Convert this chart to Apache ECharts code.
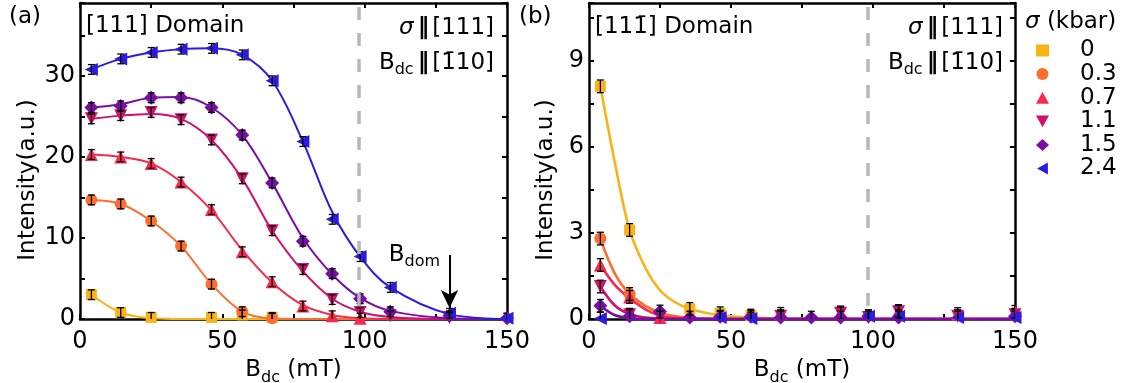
<!DOCTYPE html>
<html>
<head>
<meta charset="utf-8">
<script src="https://cdn.jsdelivr.net/npm/echarts@6/dist/echarts.min.js"></script>
<style>
html, body { margin: 0; padding: 0; background: #fff; }
#chart { width: 1125px; height: 383px; }
</style>
</head>
<body>
<div id="chart"></div>
<script>
var FONT = 'DejaVu Sans';

// field values (mT), shared by both panels
var bdc = [4, 14.3, 25, 35.5, 46.2, 57, 67.5, 78.3, 88.6, 98.4, 109, 129.8, 150];
var sigmaNames = ['0', '0.3', '0.7', '1.1', '1.5', '2.4'];
var colors = ['#fbb215', '#fb6e2d', '#f8294e', '#d0106c', '#7b0ca6', '#2b1be3'];
var symbols = ['rect', 'circle', 'triangle', 'path://M0,0L10,0L5,9Z', 'diamond', 'path://M0,5L9,0L9,10Z'];
var symSizes = [11, 12, 13, 13, 14, 13];
var domainLine = 98;   // grey dashed line
var bdom = [129.8, 7.9, 1.35]; // arrow x, top, tip

// panel (a) [111] domain, measured points
var a_0   = [3.0, 0.8, 0.2, null, 0.2, 0.5, 0.2, null, null, null, null, null, null];
var a_0_3 = [14.7, 14.2, 12.1, 9.0, 4.3, 0.9, 0.1, null, null, null, null, null, null];
var a_0_7 = [20.3, 20.0, 19.2, 16.9, 13.5, 8.3, 4.6, 1.6, 0.4, 0.1, null, null, null];
var a_1_1 = [24.7, 25.1, 25.5, 24.6, 22.1, 17.3, 10.9, 6.1, 2.4, 0.8, 0.4, 0.2, null];
var a_1_5 = [26.1, 26.3, 27.3, 27.3, 26.1, 22.7, 16.8, 9.6, 5.6, 2.5, 0.9, 0.4, 0.1];
var a_2_4 = [30.8, 32.1, 32.9, 33.3, 33.4, 32.6, 29.4, 21.9, 12.3, 7.7, 3.9, 0.7, 0.1];
// panel (a) fitted curves, at bdc
var fa_0   = [3.0, 0.8, 0.1, 0, 0, 0, 0, 0, 0, 0, 0, 0, 0];
var fa_0_3 = [14.7, 14.2, 12.1, 9.0, 4.3, 0.9, 0.05, 0, 0, 0, 0, 0, 0];
var fa_0_7 = [20.3, 20.0, 19.2, 16.9, 13.4, 8.5, 4.5, 1.7, 0.5, 0.1, 0, 0, 0];
var fa_1_1 = [24.7, 25.1, 25.3, 24.7, 22.1, 17.3, 10.9, 5.9, 2.5, 0.9, 0.25, 0, 0];
var fa_1_5 = [26.1, 26.5, 27.3, 27.4, 26.1, 22.7, 16.8, 10.0, 5.5, 2.6, 1.0, 0.1, 0];
var fa_2_4 = [30.8, 32.1, 32.9, 33.3, 33.4, 32.6, 29.4, 21.9, 13.2, 7.7, 3.9, 0.6, 0];
var errA = 0.6;

// panel (b) [11-1] domain, measured points
var b_0   = [8.1, 3.1, null, 0.35, 0.2, 0.12, null, null, null, null, null, null, null];
var b_0_3 = [2.8, 0.87, null, null, null, null, null, null, null, null, null, null, null];
var b_0_7 = [1.88, 0.77, 0.05, null, null, null, 0.18, null, 0.23, null, 0.28, 0.17, 0.25];
var b_1_1 = [1.13, 0.15, 0.05, null, null, null, 0.1, null, 0.2, 0.05, 0.25, 0.1, 0.15];
var b_1_5 = [0.46, 0.1, 0.26, 0.05, 0.08, 0.08, 0.05, 0.05, 0.05, 0.1, 0.05, null, 0.1];
var b_2_4 = [0.02, null, null, null, 0.05, 0.02, null, null, null, 0.1, 0.1, 0.05, 0.05];
// panel (b) fitted curves
var fitXB  = [4, 9, 14.3, 20, 25, 30, 35.5, 46.2, 57, 67.5, 80, 150];
var fb_0   = [8.1, 5.5, 3.1, 1.75, 1.0, 0.6, 0.35, 0.13, 0.05, 0.02, 0.01, 0];
var fb_0_3 = [2.8, 1.6, 0.87, 0.45, 0.22, 0.1, 0.04, 0.01, 0, 0, 0, 0];
var fb_0_7 = [1.88, 1.2, 0.72, 0.33, 0.12, 0.04, 0.01, 0, 0, 0, 0, 0];
var fb_1_1 = [1.13, 0.48, 0.17, 0.05, 0.01, 0, 0, 0, 0, 0, 0, 0];
var fb_1_5 = [0.46, 0.14, 0.03, 0, 0, 0, 0, 0, 0, 0, 0, 0];
var errB = 0.22;

var ptsA = [a_0, a_0_3, a_0_7, a_1_1, a_1_5, a_2_4];
var fitA = [fa_0, fa_0_3, fa_0_7, fa_1_1, fa_1_5, fa_2_4];
var ptsB = [b_0, b_0_3, b_0_7, b_1_1, b_1_5, b_2_4];
var fitB = [fb_0, fb_0_3, fb_0_7, fb_1_1, fb_1_5];

function pairs(xs, ys) {
    var out = [];
    for (var i = 0; i < xs.length; i++) {
        if (ys[i] !== null) out.push([xs[i], ys[i]]);
    }
    return out;
}

var subRich = {
    b: { fontSize: 23, fontFamily: FONT, color: '#000' },
    s: { fontSize: 16, fontFamily: FONT, color: '#000', padding: [14, 0, 0, 0] },
    it: { fontSize: 23, fontFamily: FONT, fontStyle: 'italic', color: '#000' },
    bar: { fontSize: 23, fontFamily: FONT, fontWeight: 'bold', color: '#000', padding: [0, 3, 0, 4] },
    t: { fontSize: 23, fontFamily: FONT, color: '#000' }
};

function xAx(grid, pos, showLabel) {
    return {
        type: 'value', gridIndex: grid, position: pos, min: 0, max: 150, interval: 25,
        axisLine: { show: true, onZero: false, lineStyle: { color: '#000', width: 2.5 } },
        axisTick: { show: true, inside: true, length: 5, lineStyle: { color: '#000', width: 2 } },
        splitLine: { show: false },
        axisLabel: {
            show: showLabel, margin: 11, color: '#000', fontSize: 24, fontFamily: FONT,
            formatter: function (v) { return v % 50 === 0 ? String(v) : ''; }
        },
        name: showLabel ? '{b|B}{s|dc}{t| (mT)}' : '',
        nameLocation: 'middle', nameGap: 33,
        nameTextStyle: { color: '#000', fontSize: 23, fontFamily: FONT, rich: subRich }
    };
}

function yAx(grid, pos, max, step, showLabel) {
    return {
        type: 'value', gridIndex: grid, position: pos, min: 0, max: max, interval: step,
        axisLine: { show: true, onZero: false, lineStyle: { color: '#000', width: 2.5 } },
        axisTick: { show: true, inside: true, length: 5, lineStyle: { color: '#000', width: 2 } },
        splitLine: { show: false },
        axisLabel: {
            show: showLabel, margin: 5, color: '#000', fontSize: 24, fontFamily: FONT,
            formatter: function (v) {
                var k = v / (step * 2);
                return Math.abs(k - Math.round(k)) < 1e-6 ? String(Math.round(v)) : '';
            }
        }
    };
}

function errItem(params, api) {
    var x = api.value(0), y = api.value(1), e = api.value(2);
    var top = api.coord([x, y + e]);
    var bot = api.coord([x, y - e]);
    var w = 3.5;
    var st = { stroke: '#000', lineWidth: 1.3 };
    return {
        type: 'group',
        children: [
            { type: 'line', shape: { x1: top[0], y1: top[1], x2: bot[0], y2: bot[1] }, style: st },
            { type: 'line', shape: { x1: top[0] - w, y1: top[1], x2: top[0] + w, y2: top[1] }, style: st },
            { type: 'line', shape: { x1: bot[0] - w, y1: bot[1], x2: bot[0] + w, y2: bot[1] }, style: st }
        ]
    };
}

var series = [];
var errDataA = [], errDataB = [];

// fitted curves
fitA.forEach(function (f, i) {
    series.push({
        name: 'fitA' + i, type: 'line', xAxisIndex: 0, yAxisIndex: 0,
        data: pairs(bdc, f), smooth: 0.35, showSymbol: false,
        lineStyle: { color: colors[i], width: 2 }, z: 2, silent: true
    });
});
fitB.forEach(function (f, i) {
    series.push({
        name: 'fitB' + i, type: 'line', xAxisIndex: 2, yAxisIndex: 2,
        data: pairs(fitXB, f), smooth: 0.35, showSymbol: false,
        lineStyle: { color: colors[i], width: 2.6 }, z: 2, silent: true
    });
});

// measured points
ptsA.forEach(function (p, i) {
    var d = pairs(bdc, p);
    d.forEach(function (v) { errDataA.push([v[0], v[1], errA]); });
    series.push({
        name: sigmaNames[i], type: 'scatter', xAxisIndex: 0, yAxisIndex: 0, data: d,
        symbol: symbols[i], symbolSize: symSizes[i],
        itemStyle: { color: colors[i], opacity: 1 }, z: 3
    });
});
ptsB.forEach(function (p, i) {
    var d = pairs(bdc, p);
    d.forEach(function (v) { errDataB.push([v[0], v[1], errB]); });
    series.push({
        name: sigmaNames[i], type: 'scatter', xAxisIndex: 2, yAxisIndex: 2, data: d,
        symbol: symbols[i], symbolSize: symSizes[i],
        itemStyle: { color: colors[i], opacity: 1 }, z: 3
    });
});

// error bars
series.push({
    name: 'errA', type: 'custom', xAxisIndex: 0, yAxisIndex: 0, data: errDataA,
    renderItem: errItem, encode: { x: 0, y: 1 }, clip: true, z: 4, silent: true
});
series.push({
    name: 'errB', type: 'custom', xAxisIndex: 2, yAxisIndex: 2, data: errDataB,
    renderItem: errItem, encode: { x: 0, y: 1 }, clip: true, z: 4, silent: true
});

// dashed guide lines and the B_dom arrow
var dash = {
    silent: true, symbol: 'none', label: { show: false },
    lineStyle: { color: '#b8b8b8', width: 3.5, type: [13, 13], dashOffset: 13 },
    data: [{ xAxis: domainLine }]
};
series.push({
    name: 'guideA', type: 'line', xAxisIndex: 0, yAxisIndex: 0, data: [], z: 1,
    markLine: dash,
    markPoint: {
        silent: true, symbol: 'circle', symbolSize: 0,
        label: {
            show: true, position: 'inside', formatter: '{b|B}{s|dom}', rich: subRich
        },
        data: [{ coord: [117.5, 7.9] }]
    }
});
series.push({
    name: 'arrowA', type: 'line', xAxisIndex: 0, yAxisIndex: 0, data: [], z: 5,
    markLine: {
        silent: true, symbol: ['none', 'arrow'], symbolSize: [13, 18],
        label: { show: false },
        lineStyle: { color: '#000', width: 2, type: 'solid' },
        data: [[{ coord: [bdom[0], bdom[1]] }, { coord: [bdom[0], bdom[2]] }]]
    }
});
series.push({
    name: 'guideB', type: 'line', xAxisIndex: 2, yAxisIndex: 2, data: [], z: 1,
    markLine: dash
});

var txt = function (x, y, text, align, rot) {
    return {
        type: 'text', x: x, y: y, rotation: rot || 0, silent: true,
        style: {
            text: text, align: align || 'left', verticalAlign: 'middle',
            fontSize: 23, fontFamily: FONT, fill: '#000', rich: subRich
        }
    };
};

var option = {
    animation: false,
    backgroundColor: '#fff',
    grid: [
        { left: 80, top: 3, width: 427, height: 316, outerBoundsMode: 'none' },
        { left: 589, top: 3, width: 426, height: 316, outerBoundsMode: 'none' }
    ],
    xAxis: [xAx(0, 'bottom', true), xAx(0, 'top', false), xAx(1, 'bottom', true), xAx(1, 'top', false)],
    yAxis: [yAx(0, 'left', 39, 5, true), yAx(0, 'right', 39, 5, false),
            yAx(1, 'left', 11, 1.5, true), yAx(1, 'right', 11, 1.5, false)],
    legend: {
        data: sigmaNames, orient: 'vertical', left: 1031, top: 34,
        itemWidth: 13, itemHeight: 12, itemGap: 0.6,
        textStyle: { fontSize: 23, fontFamily: FONT, color: '#000', lineHeight: 22, padding: [0, 0, 0, 26] },
        selectedMode: false
    },
    graphic: [
        txt(9, 17, '(a)'),
        txt(86, 26, '[111] Domain'),
        txt(494, 28, '{it|σ}{bar|‖}{t|[111]}', 'right'),
        txt(494, 63, '{b|B}{s|dc}{bar|‖}{t|[1\u030410]}', 'right'),
        txt(28, 180, 'Intensity(a.u.)', 'center', Math.PI / 2),
        txt(519, 17, '(b)'),
        txt(595, 27, '[111\u0304] Domain'),
        txt(1003, 28, '{it|σ}{bar|‖}{t|[111]}', 'right'),
        txt(1003, 63, '{b|B}{s|dc}{bar|‖}{t|[1\u030410]}', 'right'),
        txt(546, 180, 'Intensity(a.u.)', 'center', Math.PI / 2),
        txt(1025, 22, '{it|σ}{t| (kbar)}')
    ],
    series: series
};

var chart = echarts.init(document.getElementById('chart'));
chart.setOption(option);
</script>
</body>
</html>
